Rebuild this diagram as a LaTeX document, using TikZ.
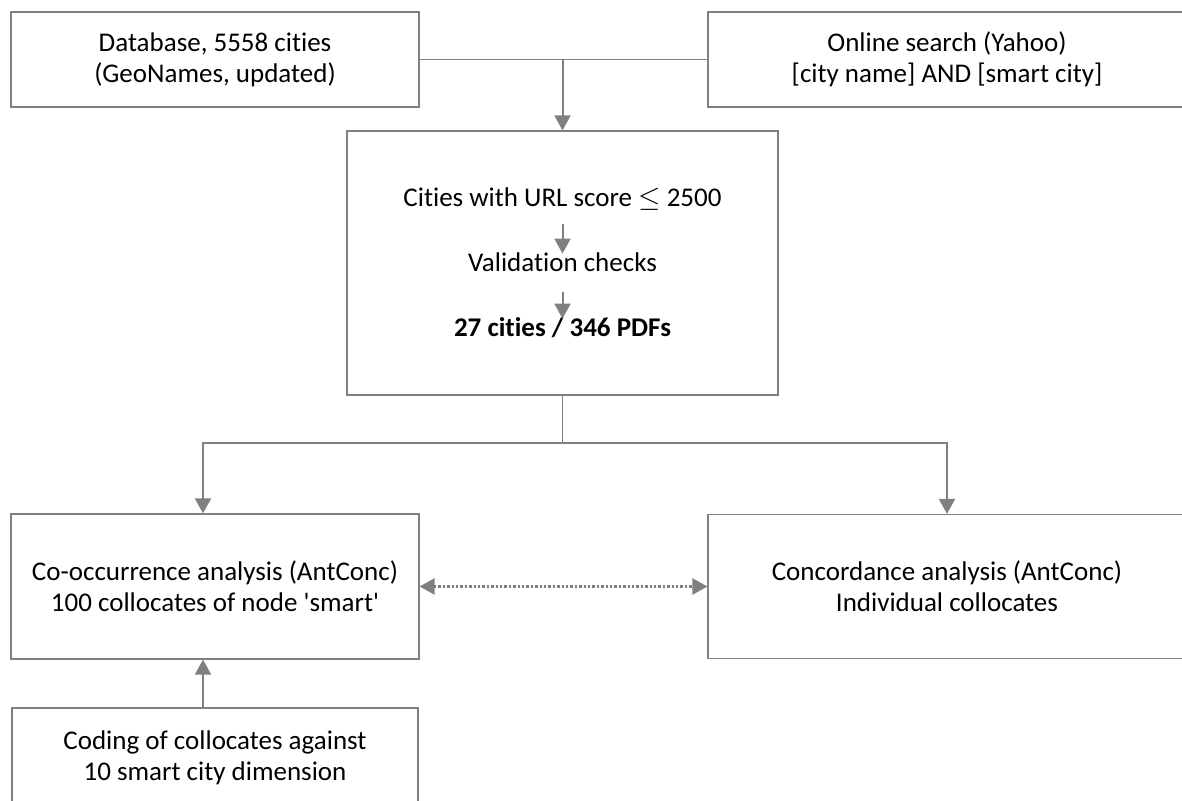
\documentclass[tikz,border=0pt]{standalone}
\usepackage{fontspec}
\setmainfont{Carlito}[Ligatures={TeX,NoCommon}]
\usetikzlibrary{arrows.meta}

\begin{document}
\begin{tikzpicture}[x=0.5pt, y=-0.5pt, font=\fontsize{13.5pt}{15.5pt}\selectfont,
  box/.style={draw=gray, line width=0.6pt, align=center, inner sep=0pt},
  stage/.style={inner sep=0pt, text height=9pt, text depth=2pt},
  link/.style={draw=gray, line width=0.6pt},
  arr/.style={draw=gray, line width=1pt, -{Triangle[width=8pt, length=7.5pt]}}]
				\useasboundingbox (0,0) rectangle (1182,801);
				\clip (0,0) rectangle (1182,801);
				\node (database) at (215,59.5) [box, minimum width=204pt, minimum height=47.5pt] {Database, 5558 cities\\(GeoNames, updated)};
				\node (search) at (947,59.5) [box, minimum width=239pt, minimum height=47.5pt] {Online search (Yahoo)\\{[city name] AND [smart city]}};
				\node (sample) at (562.5,263) [box, minimum width=215.5pt, minimum height=132pt] {};
				\node (urlscore) at (562.5,200) [stage] {Cities with URL score $\leq$ 2500};
				\node (validation) at (562.5,265) [stage] {Validation checks};
				\node (result) at (562.5,330) [stage] {\textbf{27 cities / 346 PDFs}};
				\node (cooc) at (215,586.5) [box, minimum width=204pt, minimum height=72.5pt] {Co-occurrence analysis (AntConc)\\100 collocates of node \textquotesingle smart\textquotesingle};
				\node (concord) at (947,586.5) [box, minimum width=239pt, minimum height=72pt] {Concordance analysis (AntConc)\\Individual collocates};
				\node (coding) at (215,757.5) [box, minimum width=203pt, minimum height=49.5pt] {Coding of collocates against\\10 smart city dimension};
				\coordinate (split) at (562.5,443);
				
				\draw[link] (database) -- (search);
				\draw[arr] (sample.north |- database.east) -- (sample);
				\draw[arr, shorten <=6.5pt] (urlscore) -- (validation);
				\draw[arr, shorten <=8pt] (validation) -- (result);
				\draw[link] (sample) -- (split);
				\draw[arr] (split) -| ([xshift=-6pt]cooc.north);
				\draw[arr] (split) -| (concord.north);
				\draw[arr, {Triangle[width=8pt, length=7.5pt]}-{Triangle[width=8pt, length=7.5pt]}, line width=1.2pt, dash pattern=on 1.2pt off 1pt] (cooc) -- (concord);
				\draw[arr] ([xshift=-6pt]coding.north) -- ([xshift=-6pt]cooc.south);
			\end{tikzpicture}
\end{document}
